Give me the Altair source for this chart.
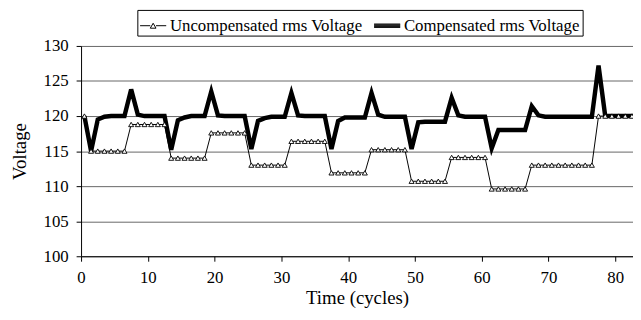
import altair as alt
import pandas as pd

# time in cycles (sample points)
cycles = [0.5, 1.5, 2.5, 3.5, 4.5, 5.5, 6.5, 7.5, 8.5, 9.5,
          10.5, 11.5, 12.5, 13.5, 14.5, 15.5, 16.5, 17.5, 18.5, 19.5,
          20.5, 21.5, 22.5, 23.5, 24.5, 25.5, 26.5, 27.5, 28.5, 29.5,
          30.5, 31.5, 32.5, 33.5, 34.5, 35.5, 36.5, 37.5, 38.5, 39.5,
          40.5, 41.5, 42.5, 43.5, 44.5, 45.5, 46.5, 47.5, 48.5, 49.5,
          50.5, 51.5, 52.5, 53.5, 54.5, 55.5, 56.5, 57.5, 58.5, 59.5,
          60.5, 61.5, 62.5, 63.5, 64.5, 65.5, 66.5, 67.5, 68.5, 69.5,
          70.5, 71.5, 72.5, 73.5, 74.5, 75.5, 76.5, 77.5, 78.5, 79.5,
          80.5, 81.5, 82.5, 83.5]

uncompensated = [120.0,
                 115.0, 115.0, 115.0, 115.0, 115.0, 115.0,
                 118.8, 118.8, 118.8, 118.8, 118.8, 118.8,
                 114.0, 114.0, 114.0, 114.0, 114.0, 114.0,
                 117.6, 117.6, 117.6, 117.6, 117.6, 117.6,
                 113.0, 113.0, 113.0, 113.0, 113.0, 113.0,
                 116.4, 116.4, 116.4, 116.4, 116.4, 116.4,
                 111.9, 111.9, 111.9, 111.9, 111.9, 111.9,
                 115.2, 115.2, 115.2, 115.2, 115.2, 115.2,
                 110.7, 110.7, 110.7, 110.7, 110.7, 110.7,
                 114.1, 114.1, 114.1, 114.1, 114.1, 114.1,
                 109.6, 109.6, 109.6, 109.6, 109.6, 109.6,
                 113.0, 113.0, 113.0, 113.0, 113.0, 113.0, 113.0, 113.0, 113.0, 113.0,
                 120.0, 120.0, 120.0, 120.0, 120.0, 120.0, 120.0]

compensated = [120.0,
               115.0, 119.5, 119.9, 120.0, 120.0, 120.0,
               123.8, 120.2, 120.0, 120.0, 120.0, 120.0,
               115.2, 119.4, 119.8, 120.0, 120.0, 120.0,
               123.5, 120.1, 120.0, 120.0, 120.0, 120.0,
               115.3, 119.3, 119.7, 119.9, 119.9, 119.9,
               123.3, 120.1, 120.0, 120.0, 120.0, 120.0,
               115.3, 119.3, 119.8, 119.8, 119.8, 119.8,
               123.3, 120.2, 119.9, 119.9, 119.9, 119.9,
               115.3, 119.1, 119.2, 119.2, 119.2, 119.2,
               122.6, 120.1, 119.9, 119.9, 119.9, 119.9,
               115.4, 118.0, 118.0, 118.0, 118.0, 118.0,
               121.4, 120.1, 119.9, 119.9, 119.9, 119.9, 119.9, 119.9, 119.9, 119.9,
               127.2, 120.0, 120.0, 120.0, 120.0, 120.0, 120.0]

series_names = ["Uncompensated rms Voltage", "Compensated rms Voltage"]
x_ticks = [0, 10, 20, 30, 40, 50, 60, 70, 80]
y_ticks = [100, 105, 110, 115, 120, 125, 130]

df = pd.DataFrame({
    "t": cycles * 2,
    "v": uncompensated + compensated,
    "series": [series_names[0]] * len(cycles) + [series_names[1]] * len(cycles),
})

FONT = "Liberation Serif"

x_enc = alt.X("t:Q", scale=alt.Scale(domain=[0, 82.66], nice=False, zero=False),
              axis=alt.Axis(values=x_ticks, title="Time (cycles)", grid=False,
                            tickSize=5, labelPadding=9, titlePadding=3,
                            labelFont=FONT, titleFont=FONT))
y_enc = alt.Y("v:Q", scale=alt.Scale(domain=[100, 130], nice=False, zero=False),
              axis=alt.Axis(values=y_ticks, title="Voltage", grid=True,
                            tickSize=5, labelPadding=8, titlePadding=14,
                            labelFont=FONT, titleFont=FONT))

base = alt.Chart(df)

comp_line = base.transform_filter(
    alt.datum.series == series_names[1]
).mark_line(color="black", strokeWidth=4.5, clip=True).encode(x=x_enc, y=y_enc)

unc_line = base.transform_filter(
    alt.datum.series == series_names[0]
).mark_line(color="black", strokeWidth=1, clip=True).encode(x=x_enc, y=y_enc)

unc_pts = base.transform_filter(
    alt.datum.series == series_names[0]
).mark_point(shape="triangle-up", size=26, filled=True, fill="white",
             stroke="black", strokeWidth=0.9, opacity=1, clip=True).encode(x=x_enc, y=y_enc)

path_unc = "M-1,0H-0.22M0.22,0H1M-0.22,0.19L0,-0.19L0.22,0.19Z"
path_comp = "M-1,-0.13H1M-1,-0.07H1M-1,0H1M-1,0.07H1M-1,0.13H1"

legend_layer = base.transform_filter("false").mark_point(
    filled=False, color="black", opacity=1, strokeWidth=1
).encode(
    x=x_enc, y=y_enc,
    shape=alt.Shape("series:N",
                    scale=alt.Scale(domain=series_names, range=[path_unc, path_comp]),
                    legend=alt.Legend(title=None, labelFont=FONT)),
)

chart = alt.layer(comp_line, unc_line, unc_pts, legend_layer).properties(
    width=559, height=213,
    autosize=alt.AutoSizeParams(type="none"),
    padding={"left": 74, "top": 36.5, "right": 0, "bottom": 54},
).configure(font=FONT).configure_view(strokeWidth=0).configure_axis(
    labelFont=FONT, labelFontSize=17, labelColor="black",
    titleFont=FONT, titleFontSize=19, titleFontWeight="normal", titleColor="black",
    domainColor="black", tickColor="black", gridColor="#666666", gridWidth=1,
    labelFlush=False,
).configure_legend(
    orient="none", legendX=57, legendY=-36.5, direction="horizontal",
    strokeColor="black", padding=2, labelFont=FONT, labelFontSize=17,
    labelColor="black", symbolSize=700, symbolStrokeColor="black",
    symbolStrokeWidth=1, labelOffset=3, columnPadding=8, labelLimit=400,
)

chart.save("out.html", embed_options={"renderer": "svg", "actions": False})
